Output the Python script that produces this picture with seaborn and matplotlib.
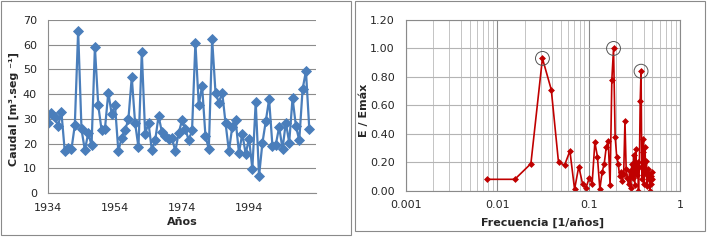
import numpy as np
import pandas as pd
import seaborn as sns
import matplotlib.pyplot as plt
from matplotlib.patches import Rectangle
from matplotlib.ticker import LogLocator, NullFormatter, FormatStrFormatter

# Caudal anual (m3/s)
anios = list(range(1934, 2013))
caudal = [28.5, 32.5, 30.8, 27.1, 32.8, 16.9, 18.2, 17.7, 27.4, 65.6,
          25.8, 17.3, 24.2, 19.3, 59.0, 35.5, 25.4, 26.0, 40.6, 32.1,
          35.5, 16.9, 22.4, 25.4, 29.8, 46.9, 28.3, 18.5, 57.0, 24.0,
          28.3, 17.3, 21.3, 31.2, 24.7, 23.1, 22.0, 22.3, 16.9, 24.2,
          29.4, 26.0, 21.3, 25.4, 60.8, 35.7, 43.3, 23.1, 17.7, 62.2,
          40.6, 36.6, 40.6, 28.3, 16.9, 26.7, 29.4, 16.3, 24.0, 15.9,
          22.0, 9.8, 36.8, 6.9, 20.2, 29.0, 37.9, 19.0, 19.6, 26.7,
          17.9, 28.5, 20.4, 38.4, 27.1, 21.3, 42.0, 49.4, 25.8]
etiquetas_anio = [1934, 1954, 1974, 1994]

# Espectro normalizado E/Emax
frecuencia = [0.0078, 0.0156, 0.0234, 0.0313, 0.0391, 0.0469, 0.0547, 0.0625,
              0.0703, 0.0781, 0.0859, 0.0938, 0.1016, 0.1094, 0.1172, 0.1250,
              0.1328, 0.1406, 0.1484, 0.1563, 0.1641, 0.1719, 0.1797, 0.1875,
              0.1953, 0.2031, 0.2109, 0.2188, 0.2266, 0.2344, 0.2422, 0.2500,
              0.2578, 0.2656, 0.2734, 0.2813, 0.2891, 0.2969, 0.3047, 0.3125,
              0.3203, 0.3281, 0.3359, 0.3438, 0.3516, 0.3594, 0.3672, 0.3750,
              0.3828, 0.3906, 0.3984, 0.4063, 0.4141, 0.4219, 0.4297, 0.4375,
              0.4453, 0.4531, 0.4609, 0.4688, 0.4766, 0.4844, 0.4922, 0.5000]
energia = [0.08, 0.08, 0.19, 0.93, 0.71, 0.20, 0.18, 0.28,
           0.01, 0.17, 0.05, 0.02, 0.09, 0.05, 0.34, 0.24,
           0.01, 0.13, 0.19, 0.31, 0.35, 0.04, 0.78, 1.00,
           0.38, 0.24, 0.19, 0.10, 0.13, 0.07, 0.12, 0.49,
           0.15, 0.09, 0.05, 0.14, 0.02, 0.19, 0.09, 0.25,
           0.04, 0.29, 0.11, 0.20, 0.00, 0.17, 0.63, 0.84,
           0.08, 0.27, 0.36, 0.05, 0.31, 0.12, 0.21, 0.03,
           0.15, 0.08, 0.12, 0.00, 0.10, 0.05, 0.13, 0.08]
picos = [3, 23, 47]  # indices de los picos marcados con circulo

dfq = pd.DataFrame({"anio": anios, "caudal": caudal})
dfe = pd.DataFrame({"f": frecuencia, "e": energia})

sns.set_style("white")
plt.rcParams['font.family'] = ['DejaVu Sans']
plt.rcParams['font.size'] = 8

W, H = 709, 240
fig = plt.figure(figsize=(W / 100, H / 100), dpi=100)

# Marcos de cada grafico
fig.patches.append(Rectangle((1 / W, 1 - 235 / H), 350 / W, 234 / H, transform=fig.transFigure,
                             fill=False, edgecolor='#8a8a8a', linewidth=0.8))
fig.patches.append(Rectangle((355 / W, 1 - 231 / H), 350 / W, 230 / H, transform=fig.transFigure,
                             fill=False, edgecolor='#8a8a8a', linewidth=0.8))

# ---- Caudal ----
ax1 = fig.add_axes([48 / W, 1 - 193 / H, (316 - 48) / W, (193 - 20) / H])
ax1.set_facecolor('none')
sns.lineplot(data=dfq, x="anio", y="caudal", ax=ax1, color='#4a7ebb', linewidth=1.6,
             marker='D', markersize=5.0, markeredgecolor='#4a7ebb', markeredgewidth=0.6)
ax1.set_xlim(1934, 2014)
ax1.set_ylim(0, 70)
ax1.set_yticks(range(0, 71, 10))
ticks_x = list(range(1934, 2015, 4))
ax1.set_xticks(ticks_x)
ax1.set_xticklabels([str(a) if a in etiquetas_anio else '' for a in ticks_x])
ax1.grid(axis='y', color='#8c8c8c', linewidth=0.8)
ax1.set_axisbelow(True)
for s in ['top', 'right']:
    ax1.spines[s].set_visible(False)
for s in ['left', 'bottom']:
    ax1.spines[s].set_color('#8c8c8c')
    ax1.spines[s].set_linewidth(0.8)
ax1.tick_params(axis='x', length=3, width=0.8, color='#8c8c8c', pad=4, labelsize=8)
ax1.tick_params(axis='y', length=0, pad=8, labelsize=8)
ax1.set_xlabel('Años', fontweight='bold', fontsize=8)
ax1.set_ylabel('Caudal [m³.seg ⁻¹]', fontweight='bold', fontsize=8)
ax1.xaxis.set_label_coords(0.5, -0.14)
ax1.yaxis.set_label_coords(-0.11, 0.485)

# ---- Espectro ----
ax2 = fig.add_axes([405.7 / W, 1 - 190.7 / H, (680 - 405.7) / W, (190.7 - 20) / H])
sns.lineplot(data=dfe, x="f", y="e", ax=ax2, color='#c00000', linewidth=1.2,
             marker='D', markersize=3.0, markeredgecolor='#c00000', markeredgewidth=0.5)
sns.scatterplot(data=dfe.iloc[picos], x="f", y="e", ax=ax2, s=100, facecolor='none',
                edgecolor='#555555', linewidth=0.7, zorder=5)
ax2.set_xscale('log')
ax2.set_xlim(0.001, 1)
ax2.set_ylim(0, 1.2)
ax2.set_yticks(np.arange(0, 1.21, 0.2))
ax2.yaxis.set_major_formatter(FormatStrFormatter('%.2f'))
ax2.set_xticks([0.001, 0.01, 0.1, 1])
ax2.set_xticklabels(['0.001', '0.01', '0.1', '1'])
ax2.xaxis.set_minor_locator(LogLocator(base=10, subs=np.arange(2, 10), numticks=20))
ax2.xaxis.set_minor_formatter(NullFormatter())
ax2.grid(which='major', axis='x', color='#8a8a8a', linewidth=0.8)
ax2.grid(which='minor', axis='x', color='#c4c4c4', linewidth=0.7)
ax2.grid(which='major', axis='y', color='#b4b4b4', linewidth=0.8)
ax2.set_axisbelow(True)
for s in ax2.spines.values():
    s.set_color('#8a8a8a')
    s.set_linewidth(0.8)
ax2.tick_params(axis='both', which='both', length=0, labelsize=8)
ax2.tick_params(axis='x', pad=7)
ax2.tick_params(axis='y', pad=8)
ax2.set_xlabel('Frecuencia [1/años]', fontweight='bold', fontsize=8)
ax2.set_ylabel('E / Emáx', fontweight='bold', fontsize=8)
ax2.xaxis.set_label_coords(0.5, -0.16)
ax2.yaxis.set_label_coords(-0.135, 0.47)

fig.savefig('out.png', dpi=100)
